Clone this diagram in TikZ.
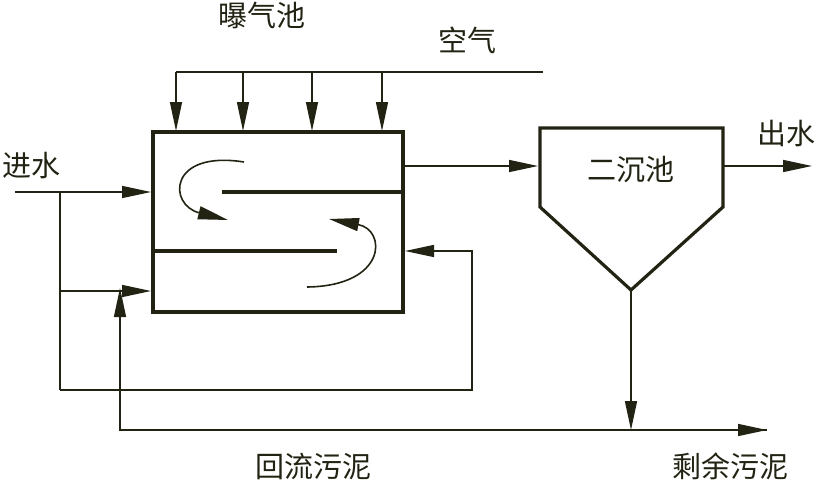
\documentclass[tikz,border=0pt]{standalone}
\usepackage{fontspec}
\newfontfamily\cjk{Noto Sans CJK SC}
\usetikzlibrary{arrows.meta}
\definecolor{ink}{RGB}{35,35,20}
\begin{document}
\begin{tikzpicture}[x=1pt,y=-1pt,
  thinline/.style={draw=ink, line width=1.5pt},
  flow/.style={thinline, -{Triangle[length=29pt,width=12pt]}},
  thickline/.style={draw=ink, line width=3.2pt},
  swirl/.style={draw=ink, line width=1.6pt, -{Triangle[length=30pt,width=13pt]}},
  lab/.style={font=\cjk\fontsize{29}{29}\selectfont, text=ink, inner sep=0pt}]
\useasboundingbox (0,0) rectangle (817,485);
\fill[white] (0,0) rectangle (817,485);

% aeration tank
\node[thickline, rectangle, minimum width=250pt, minimum height=180pt, inner sep=0pt] (tank) at (278,222) {};
\coordinate (b1) at (222,192);
\coordinate (b1e) at (403,192);
\coordinate (b2) at (153,251);
\coordinate (b2e) at (337,251);
\draw[thickline] (b1) -- (b1e);
\draw[thickline] (b2) -- (b2e);

% swirls
\coordinate (w1s) at (244,162);
\coordinate (w1e) at (228,220);
\coordinate (w2s) at (307,287);
\coordinate (w2e) at (329,219);
\draw[swirl] (w1s) .. controls (168,150) and (168,205) .. (w1e);
\draw[swirl] (w2s) .. controls (387,286) and (387,230) .. (w2e);

% clarifier
\coordinate (c1) at (540,128);
\coordinate (c2) at (723,128);
\coordinate (c3) at (723,207);
\coordinate (c4) at (631,290);
\coordinate (c5) at (540,207);
\draw[thickline, line join=miter] (c5) -- (c1) -- (c2) -- (c3) -- (c4) -- cycle;
\node[lab] (clar) at (631,170) {二沉池};

% air
\coordinate (a0) at (176,72);
\coordinate (a1) at (543,72);
\draw[thinline] (a0) -- (a1);
\foreach \x [count=\i] in {176,243,312,382}{
  \coordinate (ad\i) at (\x,72);
  \coordinate (at\i) at (\x,131);
  \draw[flow] (ad\i) -- (at\i);
}
\node[lab] (ltank) at (262,15) {曝气池};
\node[lab] (lair) at (467,40) {空气};

% tank -> clarifier
\coordinate (o1) at (403,166);
\coordinate (o2) at (538,166);
\draw[flow] (o1) -- (o2);

% effluent
\coordinate (e1) at (723,166);
\coordinate (e2) at (812,166);
\draw[flow] (e1) -- (e2);
\node[lab] (lout) at (786,134) {出水};

% influent
\node[lab] (lin) at (31,166) {进水};
\coordinate (i0) at (15,192);
\coordinate (i1) at (151,192);
\coordinate (j1) at (60,192);
\coordinate (j2) at (60,291);
\coordinate (i2) at (151,291);
\coordinate (j3) at (60,390);
\coordinate (r1) at (472,390);
\coordinate (r2) at (472,251);
\coordinate (r3) at (405,251);
\draw[flow] (i0) -- (i1);
\draw[thinline] (j1) -- (j3);
\draw[flow] (j2) -- (i2);
\draw[flow] (j3) -- (r1) -- (r2) -- (r3);

% return sludge
\coordinate (s0) at (120,288);
\coordinate (s1) at (120,430);
\coordinate (s2) at (767,430);
\draw[flow] (s2) -- (s1) -- (s0);
\coordinate (s3) at (631,430);
\draw[flow] (c4) -- (s3);
\draw[flow] (s1) -- (s2);
\node[lab] (lret) at (313,466) {回流污泥};
\node[lab] (lwaste) at (730,466) {剩余污泥};
\end{tikzpicture}
\end{document}
